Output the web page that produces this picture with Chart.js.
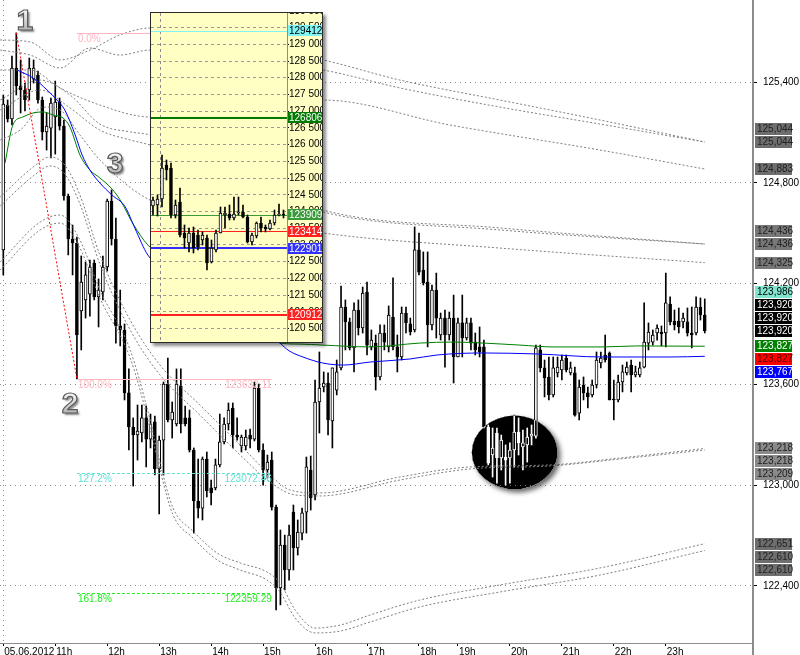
<!DOCTYPE html>
<html>
<head>
<meta charset="utf-8">
<title>M5 chart</title>
<script src="https://cdn.jsdelivr.net/npm/chart.js@4"></script>
<style>
  body { margin: 0; background: #fff; }
  #wrap { position: relative; width: 800px; height: 655px; overflow: hidden; }
  #mainChart { position: absolute; left: 0; top: 0; }
  #inset { position: absolute; left: 150px; top: 12px; width: 173px; height: 331px; box-sizing: border-box;
           border: 1px solid #2a2a2a; background: #ffffc4; box-shadow: 3px 3px 3px rgba(0,0,0,0.45); }
  #insetChart { display: block; }
</style>
</head>
<body>
<div id="wrap">
  <canvas id="mainChart" width="800" height="655"></canvas>
  <div id="inset"><canvas id="insetChart" width="171" height="329"></canvas></div>
</div>
<script>
// ---- main chart data (M5 candles, index 0 = 10:00) ----
const candleOpen = [124.401,125.264,125.181,125.485,125.378,125.354,125.354,125.419,125.443,125.294,125.104,125.127,125.193,125.282,125.139,124.722,124.466,124.442,124.037,124.103,
  124.138,124.323,124.121,124.150,124.299,124.692,124.466,123.948,123.924,123.549,123.346,123.298,123.310,123.400,123.274,123.376,123.096,123.268,123.602,123.388,
  123.364,123.590,123.400,123.400,123.209,122.905,122.863,123.155,122.983,122.983,123.120,123.257,123.364,123.459,123.298,123.233,123.233,123.298,123.274,123.578,
  123.209,123.090,123.149,122.869,122.387,122.643,122.494,122.839,122.625,122.714,122.839,123.090,122.941,123.495,123.584,123.608,123.382,123.566,123.698,124.061,
  123.972,123.817,124.043,123.936,124.150,123.823,123.846,123.644,123.906,123.823,124.001,123.823,123.763,124.025,123.960,123.924,124.401,124.281,124.210,123.954,
  124.162,123.894,123.995,123.894,123.995,123.763,123.966,123.876,123.966,123.852,123.823,123.823,123.346,123.179,123.310,123.161,123.167,123.161,123.209,123.316,
  123.227,123.239,123.292,123.292,123.805,123.698,123.644,123.537,123.668,123.686,123.757,123.668,123.668,123.429,123.596,123.549,123.537,123.596,123.727,123.775,
  123.787,123.513,123.507,123.614,123.668,123.715,123.656,123.656,123.703,123.846,123.852,123.906,123.912,123.906,124.079,123.977,123.977,123.972,123.972,123.906,
  123.906,124.061,124.013];
const candleHigh = [125.324,125.294,125.556,125.694,125.533,125.395,125.544,125.533,125.467,125.312,125.217,125.306,125.407,125.306,125.175,124.734,124.549,124.478,124.365,124.329,
  124.341,124.341,124.228,124.365,124.704,124.758,124.591,124.162,123.960,123.692,123.400,123.477,123.477,123.471,123.423,123.411,123.292,123.614,123.757,123.495,
  123.692,123.692,123.471,123.447,123.221,123.155,123.167,123.197,123.030,123.155,123.423,123.400,123.489,123.489,123.400,123.298,123.328,123.334,123.614,123.602,
  123.245,123.179,123.197,122.881,122.732,122.702,122.762,122.881,122.792,122.863,123.167,123.173,123.626,123.793,123.674,123.668,123.698,123.745,124.186,124.103,
  123.995,124.085,124.103,124.180,124.210,123.924,123.894,123.954,123.954,124.067,124.234,123.894,124.061,124.061,123.995,124.538,124.502,124.389,124.389,124.192,
  124.263,124.025,124.043,124.031,124.132,123.995,124.132,123.995,123.995,123.906,123.942,123.864,123.358,123.340,123.340,123.298,123.239,123.251,123.417,123.400,
  123.328,123.340,123.358,123.834,123.834,123.745,123.763,123.763,123.763,123.775,123.775,123.733,123.703,123.626,123.644,123.584,123.626,123.793,123.793,123.894,
  123.793,123.626,123.656,123.715,123.733,123.745,123.709,123.733,124.085,123.966,123.924,123.954,123.948,124.263,124.121,124.043,124.055,124.025,124.055,124.061,
  124.121,124.115,124.109];
const candleLow = [124.252,125.163,125.145,125.324,125.217,125.229,125.294,125.395,125.276,125.056,124.996,124.949,124.972,125.115,124.698,124.371,124.252,123.633,123.805,123.995,
  124.007,124.103,123.942,124.103,124.275,124.430,123.846,123.829,123.507,123.209,122.994,123.149,123.257,123.108,123.221,123.060,122.828,123.060,123.376,123.280,
  123.352,123.310,123.352,123.197,122.714,122.804,122.792,122.929,122.881,122.971,123.108,123.245,123.328,123.221,123.268,123.197,123.209,123.221,123.263,123.197,
  123.000,123.042,122.851,122.256,122.286,122.375,122.434,122.494,122.583,122.673,122.714,122.851,122.911,123.310,123.555,123.298,123.221,123.537,123.686,123.805,
  123.805,123.674,123.894,123.906,123.775,123.805,123.566,123.626,123.805,123.793,123.805,123.674,123.745,123.906,123.894,123.912,124.252,124.192,123.823,123.924,
  123.876,123.864,123.703,123.864,123.608,123.763,123.763,123.864,123.805,123.775,123.763,123.340,123.120,123.048,123.012,123.090,123.000,123.012,123.108,123.179,
  123.090,123.137,123.239,123.280,123.674,123.525,123.507,123.525,123.644,123.626,123.674,123.656,123.411,123.388,123.507,123.459,123.525,123.578,123.698,123.733,
  123.507,123.388,123.495,123.555,123.656,123.555,123.644,123.644,123.698,123.805,123.834,123.864,123.829,123.823,123.954,123.924,123.906,123.936,123.888,123.817,
  123.894,123.983,123.906];
const candleClose = [125.270,125.181,125.485,125.378,125.354,125.294,125.485,125.485,125.294,125.104,125.139,125.276,125.282,125.139,124.722,124.466,124.442,123.894,124.210,124.252,
  124.299,124.121,124.162,124.299,124.692,124.466,123.948,123.924,123.549,123.346,123.298,123.322,123.400,123.274,123.364,123.096,123.268,123.602,123.388,123.435,
  123.602,123.364,123.364,123.209,122.905,122.863,123.155,122.965,122.953,123.120,123.257,123.364,123.447,123.298,123.286,123.286,123.286,123.274,123.578,123.209,
  123.090,123.137,122.869,122.387,122.643,122.494,122.702,122.625,122.720,122.834,123.108,122.923,123.495,123.578,123.608,123.388,123.698,123.674,124.061,123.972,
  123.817,124.043,123.936,124.144,123.834,123.864,123.644,123.906,123.852,124.013,123.823,123.763,124.025,123.966,123.912,124.401,124.269,124.204,123.954,124.162,
  123.995,123.995,123.894,123.995,123.763,123.966,123.876,123.966,123.846,123.805,123.793,123.346,123.131,123.221,123.161,123.268,123.149,123.209,123.316,123.251,
  123.251,123.286,123.304,123.817,123.698,123.638,123.537,123.698,123.703,123.745,123.686,123.698,123.417,123.584,123.549,123.525,123.596,123.745,123.757,123.745,
  123.507,123.507,123.614,123.674,123.703,123.656,123.674,123.698,123.852,123.912,123.894,123.936,123.900,124.085,123.972,123.954,123.942,123.995,123.906,123.894,
  124.061,124.013,123.920];

const hourTickIdx = [0, 12, 24, 36, 48, 60, 72, 84, 96, 105, 117, 129, 141, 153];
const hourTickLabels = ['05.06.2012', '11h', '12h', '13h', '14h', '15h', '16h', '17h', '18h', '19h', '20h', '21h', '22h', '23h'];
const priceTicks = [122.4, 123.0, 123.6, 124.2, 124.8, 125.4];

// moving averages, [candle index, price]
const blueMA = [[3.2,125.473],[6.9,125.425],[10.1,125.354],[12.4,125.294],[14.2,125.235],[16.6,125.086],[18.2,124.967],[20,124.877],[22.3,124.800],
  [25.1,124.728],[28.1,124.660],[30.4,124.530],[33.4,124.370],[40,124.230],[47,124.120],[54,124.030],[61.6,123.900],[63.9,123.846],[66,123.800],
  [69.2,123.763],[73.8,123.727],[78.5,123.715],[84.7,123.733],[93.9,123.751],[100.2,123.775],[110.8,123.787],[123.3,123.781],[138.5,123.763],[154,123.763],[162,123.767]];
const greenMA = [[0.4,124.919],[2.2,125.145],[4.5,125.193],[6.9,125.217],[9.2,125.223],[11.5,125.205],[13.8,125.187],[15.4,125.133],[17.7,124.967],
  [20,124.877],[22.3,124.830],[25.1,124.764],[27,124.698],[30,124.555],[33.4,124.430],[40,124.311],[48,124.192],[55,124.103],[59,124.000],[63.9,123.846],
  [68.5,123.840],[73.8,123.834],[84.7,123.823],[96.2,123.846],[103.9,123.852],[110.8,123.846],[119.3,123.834],[127,123.823],[138.5,123.823],[146.3,123.829],[162,123.827]];

// envelope bands (dotted grey)
const envUpperA = [[-0.7,125.652],[6.2,125.640],[13.1,125.533],[20.0,125.592],[26.9,125.681],[33.9,125.723],[73.8,125.533],[91.6,125.413],[114.7,125.294],[137.8,125.175],[162,125.044]];
const envUpperB = [[-0.7,125.592],[6.2,125.562],[13.1,125.485],[20.0,125.604],[26.9,125.562],[33.9,125.592],[73.8,125.473],[91.6,125.366],[114.7,125.252],[137.8,125.151],[162,125.044]];
const envUpperC = [[-0.7,125.473],[6.2,125.473],[13.1,125.366],[22.3,125.264],[33.9,125.193],[73.8,125.294],[103.2,125.145],[137.8,124.996],[162,124.883]];
const envMidA = [[-0.7,125.294],[8.5,125.413],[15.4,125.324],[22.3,125.151],[29.3,125.104],[33.9,125.086],[73.8,124.639],[114.7,124.532],[162,124.436]];
const envMidB = [[-0.7,125.235],[8.5,125.354],[15.4,125.247],[22.3,125.115],[29.3,125.056],[33.9,125.026],[73.8,124.627],[114.7,124.520],[162,124.436]];
const envMidC = [[-0.7,125.056],[3.9,125.115],[9.2,125.252],[13.1,125.235],[17.7,125.086],[22.3,124.937],[33.9,124.698],[73.8,124.502],[114.7,124.412],[162,124.325]];
const envLowMidA = [[-0.7,124.716],[6.9,124.895],[10.8,124.955],[14.2,124.907],[17.7,124.728],[22.3,124.371],[29.3,123.983],[36.2,123.715],[45.4,123.477],[54.7,123.239],[61.6,123.060],
  [66.2,122.971],[73.1,122.953],[91.6,123.048],[107.8,123.108],[126.3,123.120],[142.4,123.161],[162,123.218]];
const envLowMidB = [[-0.7,124.663],[6.9,124.841],[10.8,124.901],[14.2,124.853],[17.7,124.675],[22.3,124.317],[29.3,123.924],[36.2,123.656],[45.4,123.417],[54.7,123.179],[61.6,123.018],
  [67.4,122.941],[73.1,122.935],[91.6,123.030],[107.8,123.096],[126.3,123.114],[142.4,123.155],[162,123.209]];
const envLowA = [[-0.7,124.329],[8.5,124.567],[13.1,124.609],[17.7,124.460],[22.3,124.162],[29.3,123.805],[33.9,123.388],[36.2,123.131],[39.2,122.863],[43.8,122.726],[49.4,122.595],[54.7,122.536],
  [60.9,122.482],[63.9,122.417],[67.4,122.256],[72.0,122.148],[77.8,122.166],[84.7,122.226],[96.2,122.315],[114.7,122.405],[137.8,122.506],[162,122.651]];
const envLowB = [[-0.7,124.281],[8.5,124.520],[13.1,124.561],[17.7,124.412],[22.3,124.115],[29.3,123.757],[33.9,123.340],[36.2,123.090],[39.2,122.822],[43.8,122.685],[49.4,122.554],[54.7,122.494],
  [60.9,122.434],[63.9,122.363],[67.4,122.208],[72.0,122.119],[77.8,122.130],[84.7,122.184],[96.2,122.274],[114.7,122.363],[137.8,122.464],[162,122.610]];
const envelopeLines = [envUpperA, envUpperB, envUpperC, envMidA, envMidB, envMidC, envLowMidA, envLowMidB, envLowA, envLowB];

// fibo expansion
const fibFrom = 3, fibTo = 17, fibEnd = 62;
const fibNames = ['0.0%', '100.0%', '127.2%', '161.8%'];
const fibPrices = [125.69429, 123.63311, 123.07246, 122.35929];
const fibColors = ['#ffb6c1', '#ffb6c1', '#5fe0d6', '#22ee22'];
const fibDash = [[], [], [3, 2], [3, 2]];

// wave numbers
const waveNames = ['1', '2', '3'];
const waveIdx = [5.0, 15.4, 25.8];
const wavePrice = [125.759, 123.477, 124.907];

// marked area
const ellipseCenter = [118.1, 123.194];
const ellipseRadius = [9.9, 0.220];

// price tags on the right axis
const tagValues = [125.044,125.044,124.883,124.436,124.436,124.325,123.986,123.920,123.920,123.920,123.827,123.827,123.767,123.218,123.218,123.209,122.651,122.610,122.610];
const tagFill = ['#6e6e6e','#6e6e6e','#6e6e6e','#787878','#787878','#787878','#7fe5cf','#000000','#000000','#000000','#008000','#ff0000','#0000ff','#8a8a8a','#8a8a8a','#8a8a8a','#6e6e6e','#6e6e6e','#6e6e6e'];
const tagInk = ['#222','#222','#222','#222','#222','#222','#000','#fff','#fff','#fff','#fff','#500000','#fff','#222','#222','#222','#222','#222','#222'];

// ---- inset chart data ----
const insetOpen = [124163,124193,124373,125390,125300,123894,124283,123357,123058,123357,123297,123147,123207,122489,122848,123357,123894,123924,123805,123954,123984,123834,123088,123267,123655,123536,123476,123655,123894,123924];
const insetHigh = [124433,124492,125689,125539,125449,124343,124702,123596,123506,123536,123446,123387,123297,123147,123446,124134,124134,124193,124433,124433,124193,123894,123357,123685,123834,123596,123745,124044,124223,124044];
const insetLow = [123894,123864,124134,124941,123805,123805,123237,122908,122788,122758,122848,122998,122250,122459,122788,123357,123506,123745,123745,123894,123805,123058,122998,123207,123387,123387,123446,123596,123864,123805];
const insetClose = [124343,124373,125300,125240,123894,124193,123297,123207,123357,122908,122938,123297,122459,122908,123357,123954,123954,123805,123924,123984,123834,123088,123297,123655,123506,123476,123655,123894,123924,123894];
const insetTicks = [120500,121000,121500,122000,122500,123000,123500,124000,124500,125000,125500,126000,126500,127000,127500,128000,128500,129000,129500,130000];
const insetLevels = [129412, 126806, 123909, 123414, 122901, 120912];
const insetLevelColor = ['#7ff5f5', '#007a00', '#3a9a3a', '#ff2020', '#3030ff', '#ff2020'];
const insetLevelWidth = [1, 2, 1, 1, 2, 2];
const insetLevelInk = ['#000', '#fff', '#fff', '#fff', '#fff', '#fff'];
const insetSessionBreak = 1.78;

Chart.defaults.font.family = '"Liberation Sans", Arial, sans-serif';
Chart.defaults.font.size = 10;
Chart.defaults.color = '#000';

const toPts = arr => arr.map(([x, y]) => ({x, y}));
const fmtPrice = v => v.toFixed(3).replace('.', ',');
const lastClose = candleClose[candleClose.length - 1];

function candleSets(o, h, l, c, width) {
  const idx = o.map((_, i) => i);
  return [
    { type: 'bar', data: idx.map(i => ({x: i, y: [o[i], c[i]]})), grouped: false, barThickness: width,
      backgroundColor: idx.map(i => c[i] >= o[i] ? '#ffffff' : '#000000'), borderColor: '#000', borderWidth: 1,
      borderSkipped: false, minBarLength: 1 },
    { type: 'bar', data: idx.map(i => ({x: i, y: [l[i], h[i]]})), grouped: false, barThickness: 1,
      backgroundColor: '#000', borderWidth: 0 }
  ];
}

const lineSet = (pts, color, dash) => ({
  type: 'line', data: toPts(pts), borderColor: color, borderWidth: 1, borderDash: dash,
  pointRadius: 0, cubicInterpolationMode: 'monotone'
});

const mainDecor = {
  id: 'mainDecor',
  beforeDraw(chart) {
    const ctx = chart.ctx;
    ctx.save();
    ctx.fillStyle = '#fff';
    ctx.fillRect(0, 0, chart.width, chart.height);
    ctx.restore();
  },
  afterDatasetsDraw(chart) {
    const {ctx, chartArea, scales: {x, y}} = chart;
    ctx.save();
    ctx.beginPath();
    ctx.rect(chartArea.left, chartArea.top, chartArea.right - chartArea.left, chartArea.bottom - chartArea.top);
    ctx.clip();

    // fibo trend line
    ctx.strokeStyle = '#ff0000';
    ctx.lineWidth = 1;
    ctx.setLineDash([2, 2]);
    ctx.beginPath();
    ctx.moveTo(x.getPixelForValue(fibFrom), y.getPixelForValue(fibPrices[0]));
    ctx.lineTo(x.getPixelForValue(fibTo), y.getPixelForValue(fibPrices[1]));
    ctx.stroke();

    // fibo levels
    const fx0 = x.getPixelForValue(fibTo), fx1 = x.getPixelForValue(fibEnd);
    ctx.font = '10px "Liberation Sans", Arial';
    ctx.textBaseline = 'top';
    fibPrices.forEach((p, k) => {
      const py = Math.round(y.getPixelForValue(p)) + 0.5;
      ctx.strokeStyle = fibColors[k];
      ctx.setLineDash(fibDash[k]);
      ctx.beginPath();
      ctx.moveTo(fx0, py);
      ctx.lineTo(fx1, py);
      ctx.stroke();
      ctx.fillStyle = fibColors[k];
      ctx.textAlign = 'left';
      ctx.fillText(fibNames[k], fx0 + 1, py + 1);
      ctx.textAlign = 'right';
      ctx.fillText((p * 1000).toFixed(2), fx1, py + 1);
    });
    ctx.setLineDash([]);

    // wave numbers
    ctx.font = 'bold 30px "Liberation Sans", Arial';
    ctx.textAlign = 'center';
    ctx.textBaseline = 'middle';
    waveNames.forEach((t, k) => {
      const tx = x.getPixelForValue(waveIdx[k]), ty = y.getPixelForValue(wavePrice[k]);
      const g = ctx.createLinearGradient(0, ty - 12, 0, ty + 12);
      g.addColorStop(0, '#f6f6f6');
      g.addColorStop(1, '#a8a8a8');
      ctx.save();
      ctx.shadowColor = 'rgba(0,0,0,0.45)';
      ctx.shadowOffsetX = 2;
      ctx.shadowOffsetY = 2;
      ctx.shadowBlur = 2;
      ctx.fillStyle = g;
      ctx.fillText(t, tx, ty);
      ctx.restore();
      ctx.strokeStyle = '#5a5a5a';
      ctx.lineWidth = 1.2;
      ctx.strokeText(t, tx, ty);
    });

    // black ellipse (inverts what is under it)
    const cx = x.getPixelForValue(ellipseCenter[0]), cy = y.getPixelForValue(ellipseCenter[1]);
    const rx = Math.abs(x.getPixelForValue(ellipseCenter[0] + ellipseRadius[0]) - cx);
    const ry = Math.abs(y.getPixelForValue(ellipseCenter[1] + ellipseRadius[1]) - cy);
    ctx.save();
    ctx.beginPath();
    ctx.rect(0, 0, chart.width, chart.height);
    ctx.ellipse(cx, cy, rx, ry, 0, 0, Math.PI * 2);
    ctx.clip('evenodd');
    ctx.shadowColor = 'rgba(0,0,0,0.6)';
    ctx.shadowBlur = 5;
    ctx.shadowOffsetX = 3;
    ctx.shadowOffsetY = 3;
    ctx.fillStyle = '#000';
    ctx.beginPath();
    ctx.ellipse(cx, cy, rx, ry, 0, 0, Math.PI * 2);
    ctx.fill();
    ctx.restore();
    ctx.save();
    ctx.globalCompositeOperation = 'difference';
    ctx.fillStyle = '#fff';
    ctx.beginPath();
    ctx.ellipse(cx, cy, rx, ry, 0, 0, Math.PI * 2);
    ctx.fill();
    ctx.restore();

    ctx.restore();
  },
  afterDraw(chart) {
    const {ctx, chartArea, scales: {y}} = chart;
    ctx.save();
    // axis line runs on to the bottom edge
    ctx.fillStyle = '#8c8c8c';
    ctx.fillRect(chartArea.right - 1, chartArea.bottom, 2, chart.height - chartArea.bottom);

    const h = 13;
    const order = tagValues.map((v, k) => k).sort((a, b) => Math.abs(tagValues[a] - lastClose) - Math.abs(tagValues[b] - lastClose));
    const placed = [];
    ctx.font = '10px "Liberation Sans", Arial';
    ctx.textBaseline = 'middle';
    ctx.textAlign = 'left';
    order.forEach(k => {
      const v = tagValues[k];
      const dir = v >= lastClose ? -1 : 1;
      let ty = y.getPixelForValue(v);
      let hit;
      while ((hit = placed.filter(p => Math.abs(p - ty) < h)).length) {
        ty = dir < 0 ? Math.min(...hit) - h : Math.max(...hit) + h;
      }
      placed.push(ty);
      const top = Math.round(ty - 6);
      ctx.fillStyle = tagFill[k];
      ctx.fillRect(755, top, 37, 12);
      ctx.fillStyle = tagInk[k];
      ctx.fillText(fmtPrice(v), 757, top + 6.5);
    });
    ctx.restore();
  }
};

new Chart(document.getElementById('mainChart'), {
  type: 'bar',
  data: {
    datasets: [
      lineSet(blueMA, '#0000ff', []),
      lineSet(greenMA, '#008000', []),
      ...envelopeLines.map(l => lineSet(l, '#808080', [2, 2])),
      ...candleSets(candleOpen, candleHigh, candleLow, candleClose, 3)
    ]
  },
  options: {
    responsive: false,
    animation: false,
    events: [],
    layout: { padding: 0 },
    plugins: { legend: { display: false }, tooltip: { enabled: false } },
    scales: {
      x: {
        type: 'linear',
        offset: false,
        min: -0.762,
        max: 173.14,
        afterBuildTicks: s => { s.ticks = hourTickIdx.map(v => ({value: v})); },
        afterFit: s => { s.height = 12; s.paddingLeft = 0; s.paddingRight = 0; },
        ticks: { autoSkip: false, maxRotation: 0, align: 'start', padding: 0, labelOffset: 1,
                 callback: (v, k) => hourTickLabels[k] },
        grid: { offset: false, color: c => (c.tick && c.tick.value === 0) ? '#8c8c8c' : 'rgba(0,0,0,0)', tickColor: '#000', tickLength: 3 },
        border: { color: '#8c8c8c', width: 1, dash: [1, 4] }
      },
      y: {
        type: 'linear',
        position: 'right',
        min: 122.059,
        max: 125.890,
        afterBuildTicks: s => { s.ticks = priceTicks.map(v => ({value: v})); },
        afterFit: s => { s.width = 47; s.paddingTop = 0; s.paddingBottom = 0; },
        ticks: { padding: 6, callback: v => fmtPrice(v) },
        grid: { color: '#8c8c8c', tickColor: '#000', tickLength: 4 },
        border: { color: '#8c8c8c', width: 2, dash: [1, 4] }
      }
    }
  },
  plugins: [mainDecor]
});

// ---- inset ----
const insetDecor = {
  id: 'insetDecor',
  beforeDraw(chart) {
    const ctx = chart.ctx;
    ctx.save();
    ctx.fillStyle = '#ffffc4';
    ctx.fillRect(0, 0, chart.width, chart.height);
    ctx.restore();
  },
  beforeDatasetsDraw(chart) {
    const {ctx, chartArea, scales: {y}} = chart;
    ctx.save();
    insetLevels.forEach((v, k) => {
      const py = Math.round(y.getPixelForValue(v)) + (insetLevelWidth[k] === 1 ? 0.5 : 0);
      ctx.strokeStyle = insetLevelColor[k];
      ctx.lineWidth = insetLevelWidth[k];
      ctx.beginPath();
      ctx.moveTo(chartArea.left, py);
      ctx.lineTo(chartArea.right, py);
      ctx.stroke();
    });
    ctx.restore();
  },
  afterDraw(chart) {
    const {ctx, chartArea, scales: {y}} = chart;
    ctx.save();
    ctx.font = '10px "Liberation Sans", Arial';
    ctx.textBaseline = 'middle';
    ctx.textAlign = 'left';
    insetLevels.forEach((v, k) => {
      const top = Math.round(y.getPixelForValue(v) - 5.5);
      ctx.fillStyle = insetLevelColor[k];
      ctx.fillRect(chartArea.right + 1, top, chart.width - chartArea.right - 1, 11);
      ctx.fillStyle = insetLevelInk[k];
      ctx.fillText(v.toFixed(1), chartArea.right + 2, top + 6);
    });
    ctx.restore();
  }
};

new Chart(document.getElementById('insetChart'), {
  type: 'bar',
  data: { datasets: candleSets(insetOpen, insetHigh, insetLow, insetClose, 3) },
  options: {
    responsive: false,
    animation: false,
    events: [],
    layout: { padding: 0 },
    plugins: { legend: { display: false }, tooltip: { enabled: false } },
    scales: {
      x: {
        type: 'linear',
        offset: false,
        min: -0.44,
        max: 29.78,
        afterBuildTicks: s => { s.ticks = [{value: insetSessionBreak}]; },
        afterFit: s => { s.height = 0; s.paddingLeft = 0; s.paddingRight = 0; },
        ticks: { display: false },
        grid: { offset: false, color: '#8c8c8c', drawTicks: false },
        border: { display: false, dash: [3, 3] }
      },
      y: {
        type: 'linear',
        position: 'right',
        min: 120096,
        max: 129936,
        afterBuildTicks: s => { s.ticks = insetTicks.map(v => ({value: v})); },
        afterFit: s => { s.width = 35; s.paddingTop = 0; s.paddingBottom = 0; },
        ticks: { padding: 0, font: { size: 10 }, callback: v => Math.floor(v / 1000) + ' ' + String(v % 1000).padStart(3, '0') },
        grid: { color: '#9a9a9a', tickColor: '#000', tickLength: 2 },
        border: { color: '#8c8c8c', width: 1, dash: [3, 3] }
      }
    }
  },
  plugins: [insetDecor]
});
</script>
</body>
</html>
